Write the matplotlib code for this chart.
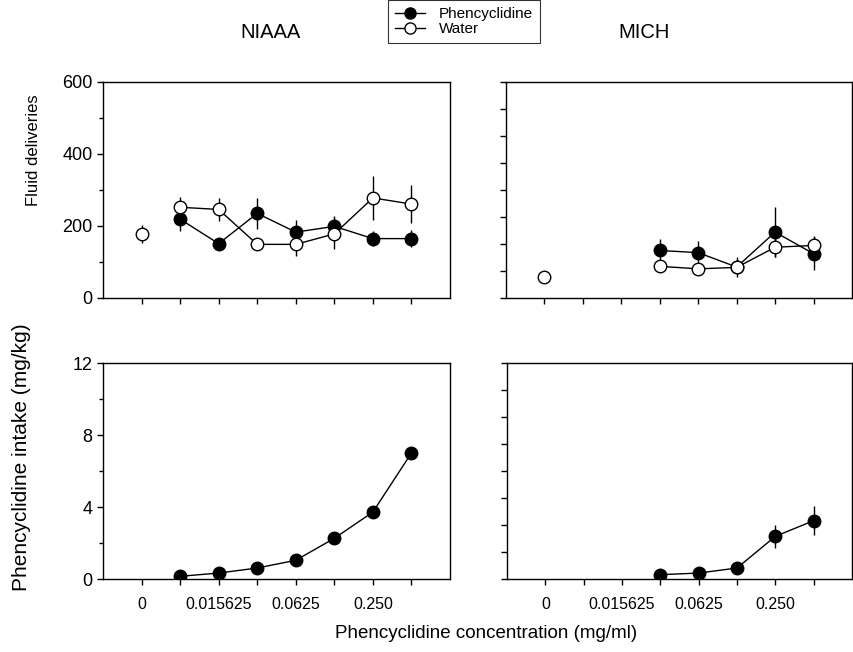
import numpy as np
import matplotlib.pyplot as plt
from matplotlib.ticker import MultipleLocator
from matplotlib.lines import Line2D

plt.rcParams['font.family'] = ['Liberation Sans', 'DejaVu Sans']

# x positions: 0 = water-only baseline, 1..7 = increasing concentrations
tick_pos = [0, 1, 2, 3, 4, 5, 6, 7]
tick_labels = ['0', '', '0.015625', '', '0.0625', '', '0.250', '']

# NIAAA fluid deliveries
niaaa_water_x = [1, 2, 3, 4, 5, 6, 7]
niaaa_water = [252, 246, 149, 149, 178, 278, 261]
niaaa_water_err = [28, 32, 10, 32, 43, 62, 54]
niaaa_water0 = 179
niaaa_water0_err = 25
niaaa_pcp_x = [1, 2, 3, 4, 5, 6, 7]
niaaa_pcp = [219, 151, 235, 183, 199, 165, 165]
niaaa_pcp_err = [34, 10, 44, 34, 30, 20, 23]

# MICH fluid deliveries
mich_water_x = [3, 4, 5, 6, 7]
mich_water = [88, 81, 85, 141, 146]
mich_water_err = [10, 10, 12, 27, 25]
mich_water0 = 58
mich_water0_err = 5
mich_pcp_x = [3, 4, 5, 6, 7]
mich_pcp = [132, 126, 86, 183, 123]
mich_pcp_err = [32, 31, 29, 69, 46]

# phencyclidine intake (mg/kg)
niaaa_intake_x = [1, 2, 3, 4, 5, 6, 7]
niaaa_intake = [0.15, 0.33, 0.61, 1.04, 2.26, 3.72, 7.0]
mich_intake_x = [3, 4, 5, 6, 7]
mich_intake = [0.24, 0.33, 0.61, 2.37, 3.24]
mich_intake_err = [0.05, 0.05, 0.08, 0.65, 0.8]

fig = plt.figure(figsize=(8.54, 6.52), dpi=100)
W, H = 854, 652


def add_ax(l, t, r, b):
    return fig.add_axes([l / W, 1 - b / H, (r - l) / W, (b - t) / H])


ax_tl = add_ax(103, 82, 450, 298)
ax_tr = add_ax(506, 82, 852, 298)
ax_bl = add_ax(103, 363, 450, 579)
ax_br = add_ax(507, 363, 852, 579)

filled = dict(marker='o', ms=9, mfc='black', mec='black', color='black',
              lw=1, elinewidth=1, capsize=0)
hollow = dict(marker='o', ms=9, mfc='white', mec='black', color='black',
              lw=1, elinewidth=1, capsize=0)

# top left
ax_tl.errorbar(niaaa_pcp_x, niaaa_pcp, yerr=niaaa_pcp_err, zorder=3, **filled)
ax_tl.errorbar(niaaa_water_x, niaaa_water, yerr=niaaa_water_err, zorder=4, **hollow)
ax_tl.errorbar([0], [niaaa_water0], yerr=[niaaa_water0_err], zorder=4, **hollow)

# top right
ax_tr.errorbar(mich_pcp_x, mich_pcp, yerr=mich_pcp_err, zorder=3, **filled)
ax_tr.errorbar(mich_water_x, mich_water, yerr=mich_water_err, zorder=4, **hollow)
ax_tr.errorbar([0], [mich_water0], yerr=[mich_water0_err], zorder=4, **hollow)

# bottom
ax_bl.errorbar(niaaa_intake_x, niaaa_intake, **filled)
ax_br.errorbar(mich_intake_x, mich_intake, yerr=mich_intake_err, **filled)

for ax in (ax_tl, ax_tr, ax_bl, ax_br):
    ax.set_xlim(-1, 8)
    ax.set_xticks(tick_pos)
    for s in ax.spines.values():
        s.set_linewidth(1)
    ax.tick_params(direction='out', length=4, width=1)
    ax.tick_params(axis='y', labelsize=13)
    ax.tick_params(axis='x', labelsize=11.5)
    ax.tick_params(which='minor', direction='out', length=3, width=1)

for ax in (ax_tl, ax_tr):
    ax.set_ylim(0, 600)
    ax.set_xticklabels([])
ax_tl.yaxis.set_major_locator(MultipleLocator(200))
ax_tl.yaxis.set_minor_locator(MultipleLocator(100))
ax_tr.yaxis.set_major_locator(MultipleLocator(75))
ax_tr.set_yticklabels([])

for ax in (ax_bl, ax_br):
    ax.set_ylim(0, 12)
    ax.set_xticklabels(tick_labels)
    ax.tick_params(axis='x', pad=9)
ax_bl.yaxis.set_major_locator(MultipleLocator(4))
ax_bl.yaxis.set_minor_locator(MultipleLocator(2))
ax_br.yaxis.set_major_locator(MultipleLocator(1.5))
ax_br.set_yticklabels([])

fig.text(271 / W, 1 - 33 / H, 'NIAAA', ha='center', va='center', fontsize=14.5)
fig.text(644 / W, 1 - 33 / H, 'MICH', ha='center', va='center', fontsize=14.5)
fig.text(33 / W, 1 - 150 / H, 'Fluid deliveries', rotation=90,
         ha='center', va='center', fontsize=12)
fig.text(22 / W, 1 - 457 / H, 'Phencyclidine intake (mg/kg)', rotation=90,
         ha='center', va='center', fontsize=15)
fig.text(486 / W, 1 - 634 / H, 'Phencyclidine concentration (mg/ml)',
         ha='center', va='center', fontsize=13.5)

handles = [
    Line2D([], [], color='black', lw=1, marker='o', ms=8, mfc='black', mec='black'),
    Line2D([], [], color='black', lw=1, marker='o', ms=8, mfc='white', mec='black'),
]
leg = fig.legend(handles, ['Phencyclidine', 'Water'], loc='upper center',
                 bbox_to_anchor=(464 / W, 1.0), fontsize=11, frameon=True,
                 fancybox=False, handlelength=2.0, borderpad=0.45,
                 labelspacing=0.1, handletextpad=0.9, borderaxespad=0.0)
leg.get_frame().set_edgecolor('black')
leg.get_frame().set_linewidth(0.8)

fig.savefig('out.png', dpi=100)
